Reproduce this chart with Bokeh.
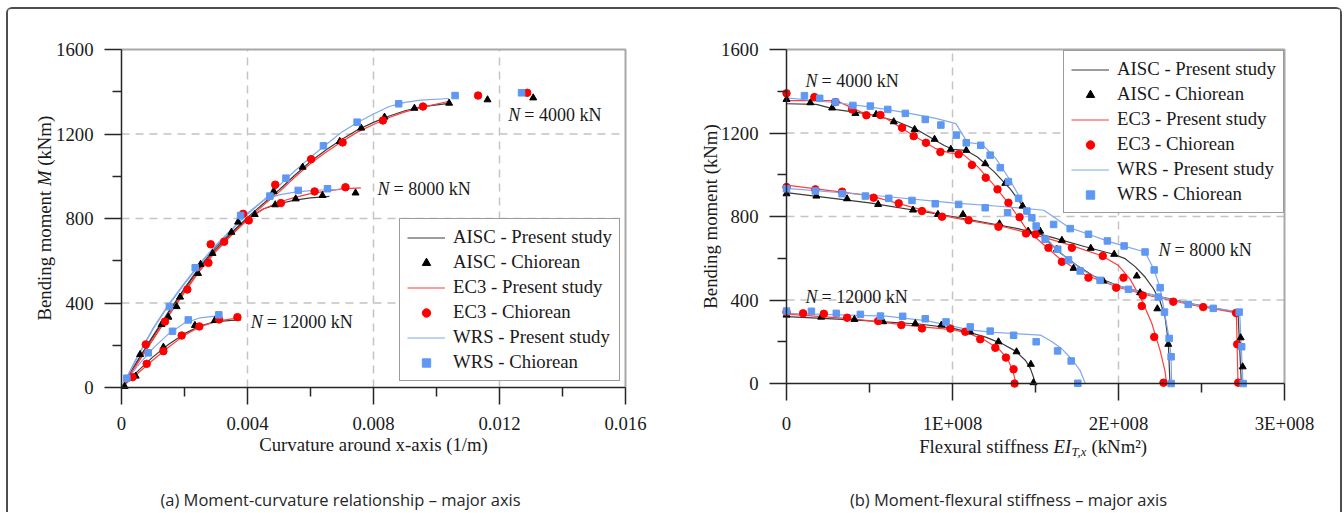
import math
from bokeh.plotting import figure
from bokeh.models import Range1d, FixedTicker, Legend, LegendItem
from bokeh.layouts import row
from bokeh.embed import file_html
from bokeh.resources import INLINE
from bokeh.core.properties import value

SERIF = "Liberation Serif"
SANS = "Open Sans"

# ================= Panel (a): moment - curvature =================
a_x_ticks = [0, 0.004, 0.008, 0.012, 0.016]
a_x_minor = [0.002, 0.006, 0.010, 0.014]
a_y_ticks = [0, 400, 800, 1200, 1600]
a_y_minor = [200, 600, 1000, 1400]

# Present study (lines)
a_k_4000 = [0, 0.0005, 0.001, 0.0015, 0.002, 0.0025, 0.003, 0.0035, 0.004, 0.0045, 0.005,
            0.0055, 0.006, 0.0065, 0.007, 0.0075, 0.008, 0.0085, 0.009, 0.0095, 0.0104]
a_aisc_4000 = [0, 125, 245, 360, 470, 575, 665, 735, 805, 870, 935,
               1005, 1070, 1125, 1175, 1220, 1255, 1285, 1310, 1328, 1345]
a_ec3_4000 = [0, 115, 230, 345, 455, 560, 650, 725, 795, 862, 925,
              995, 1060, 1115, 1165, 1210, 1245, 1278, 1305, 1325, 1355]
a_wrs_4000 = [0, 145, 280, 395, 495, 590, 675, 750, 820, 885, 955,
              1025, 1090, 1150, 1210, 1256, 1295, 1330, 1350, 1360, 1368]

a_k_aisc_8000 = [0, 0.0005, 0.001, 0.0015, 0.002, 0.0025, 0.003, 0.0035, 0.004, 0.0045, 0.005, 0.0055, 0.006, 0.0066]
a_aisc_8000 = [0, 122, 240, 355, 465, 568, 655, 730, 798, 845, 870, 887, 898, 905]
a_k_ec3_8000 = [0, 0.0005, 0.001, 0.0015, 0.002, 0.0025, 0.003, 0.0035, 0.004, 0.0045, 0.005, 0.0055, 0.006, 0.0065, 0.007, 0.0076]
a_ec3_8000 = [0, 112, 226, 340, 450, 555, 645, 722, 795, 845, 877, 900, 918, 930, 940, 945]
a_k_wrs_8000 = [0, 0.0005, 0.001, 0.0015, 0.002, 0.0025, 0.003, 0.0035, 0.004, 0.0045, 0.005, 0.0055, 0.006, 0.0065, 0.0069]
a_wrs_8000 = [0, 142, 276, 390, 490, 585, 670, 748, 825, 885, 912, 925, 932, 936, 937]

a_k_aisc_12000 = [0, 0.0005, 0.001, 0.0015, 0.002, 0.0025, 0.003, 0.0035, 0.0038]
a_aisc_12000 = [0, 75, 145, 205, 255, 292, 312, 318, 320]
a_k_ec3_12000 = [0, 0.0005, 0.001, 0.0015, 0.002, 0.0025, 0.003, 0.0035, 0.0037]
a_ec3_12000 = [0, 65, 130, 192, 248, 288, 313, 325, 328]
a_k_wrs_12000 = [0, 0.0005, 0.001, 0.0015, 0.002, 0.0025, 0.0031]
a_wrs_12000 = [0, 100, 185, 255, 305, 330, 340]

# Chiorean (markers)
a_aisc_pts_k = [0.00059, 0.00127, 0.00186, 0.00251, 0.0037, 0.00483, 0.00575, 0.00693, 0.00761, 0.00835,
                0.0093, 0.0104, 0.01162, 0.01307,
                0.00149, 0.00175, 0.00243, 0.00289, 0.00349, 0.00423, 0.00488, 0.00553, 0.00638, 0.00743,
                0.0001, 0.00045, 0.00133, 0.00233, 0.00296]
a_aisc_pts_m = [156, 298, 428, 583, 783, 929, 1043, 1165, 1228, 1280,
                1322, 1346, 1362, 1371,
                333, 383, 540, 635, 735, 819, 865, 893, 909, 921,
                5, 54, 191, 294, 317]
a_ec3_pts_k = [0.00077, 0.00138, 0.00209, 0.00283, 0.00386, 0.00488, 0.00602, 0.00702, 0.0083, 0.00957,
               0.01132, 0.01288,
               0.00276, 0.00326, 0.00404, 0.00506, 0.00613, 0.00711,
               0.00035, 0.0008, 0.00133, 0.00191, 0.00247, 0.0031, 0.00368]
a_ec3_pts_m = [204, 312, 464, 678, 822, 960, 1081, 1160, 1264, 1330,
               1382, 1395,
               590, 690, 791, 873, 928, 948,
               49, 112, 172, 246, 289, 322, 333]
a_wrs_pts_k = [0.00017, 0.00152, 0.00234, 0.00378, 0.00522, 0.00641, 0.00748, 0.0088, 0.01059, 0.0127,
               0.00471, 0.00561, 0.00654,
               0.00085, 0.00162, 0.00212, 0.00309]
a_wrs_pts_m = [44, 383, 567, 814, 991, 1144, 1256, 1343, 1382, 1395,
               906, 933, 941,
               164, 266, 320, 344]

a_notes_x = [0.01228, 0.00813, 0.0041]
a_notes_y = [1292, 942, 308]
a_notes_txt = ["= 4000 kN", "= 8000 kN", "= 12000 kN"]

# ================= Panel (b): moment - flexural stiffness =================
b_x_ticks = [0, 1e8, 2e8, 3e8]
b_x_minor = [0.5e8, 1.5e8, 2.5e8]
b_x_labels = {0: "0", 1e8: "1E+008", 2e8: "2E+008", 3e8: "3E+008"}
b_y_ticks = [0, 400, 800, 1200, 1600]
b_y_minor = [200, 600, 1000, 1400]

b_ei_aisc_4000 = [0, 0.18e8, 0.3e8, 0.5e8, 0.65e8, 0.8e8, 0.95e8, 1.0e8, 1.08e8, 1.15e8, 1.25e8, 1.35e8,
                  1.45e8, 1.55e8, 1.65e8, 1.75e8, 1.85e8, 2.0e8, 2.2e8, 2.45e8, 2.72e8, 2.74e8]
b_aisc_4000 = [1340, 1337, 1312, 1290, 1260, 1210, 1140, 1122, 1117, 1085, 1015, 930,
               820, 700, 625, 565, 515, 468, 425, 380, 340, 0]
b_ei_ec3_4000 = [0, 0.3e8, 0.45e8, 0.6e8, 0.75e8, 0.9e8, 0.98e8, 1.06e8, 1.15e8, 1.25e8, 1.35e8,
                 1.45e8, 1.55e8, 1.65e8, 1.8e8, 2.0e8, 2.2e8, 2.45e8, 2.71e8, 2.72e8]
b_ec3_4000 = [1355, 1355, 1300, 1270, 1195, 1125, 1105, 1100, 1040, 950, 850,
              735, 665, 595, 520, 460, 418, 375, 338, 0]
b_ei_wrs_4000 = [0, 0.3e8, 0.5e8, 0.7e8, 0.9e8, 1.02e8, 1.09e8, 1.18e8, 1.26e8, 1.35e8, 1.42e8,
                 1.5e8, 1.6e8, 1.7e8, 1.8e8, 1.9e8, 2.1e8, 2.3e8, 2.5e8, 2.73e8, 2.75e8]
b_wrs_4000 = [1368, 1345, 1325, 1300, 1270, 1245, 1155, 1145, 1080, 970, 870,
              760, 665, 592, 535, 492, 445, 405, 372, 342, 0]

b_ei_aisc_8000 = [0, 0.5e8, 1.0e8, 1.4e8, 1.6e8, 1.8e8, 1.97e8, 2.04e8, 2.1e8, 2.16e8, 2.21e8,
                  2.25e8, 2.28e8, 2.3e8, 2.31e8]
b_aisc_8000 = [914, 865, 800, 741, 700, 655, 619, 598, 560, 510, 455, 395, 320, 200, 0]
b_ei_ec3_8000 = [0, 0.5e8, 0.8e8, 1.0e8, 1.3e8, 1.5e8, 1.7e8, 1.9e8, 2.0e8, 2.07e8, 2.14e8,
                 2.2e8, 2.25e8, 2.28e8, 2.29e8]
b_ec3_8000 = [950, 900, 835, 795, 752, 712, 665, 612, 565, 500, 400, 290, 160, 60, 0]
b_ei_wrs_8000 = [0, 0.5e8, 1.0e8, 1.3e8, 1.55e8, 1.7e8, 1.82e8, 1.93e8, 2.03e8, 2.16e8, 2.215e8,
                 2.25e8, 2.277e8, 2.305e8, 2.317e8, 2.32e8]
b_wrs_8000 = [935, 903, 865, 848, 830, 748, 715, 683, 659, 630, 544, 459, 342, 216, 128, 0]

b_ei_aisc_12000 = [0, 0.4e8, 0.8e8, 1.0e8, 1.1e8, 1.2e8, 1.3e8, 1.38e8, 1.44e8, 1.47e8, 1.49e8, 1.495e8]
b_aisc_12000 = [320, 305, 285, 265, 245, 222, 190, 155, 110, 70, 25, 0]
b_ei_ec3_12000 = [0, 0.4e8, 0.8e8, 1.0e8, 1.1e8, 1.2e8, 1.28e8, 1.33e8, 1.36e8, 1.375e8, 1.378e8]
b_ec3_12000 = [332, 310, 272, 258, 240, 205, 165, 120, 70, 25, 0]
b_ei_wrs_12000 = [0, 0.6e8, 0.85e8, 1.0e8, 1.1e8, 1.25e8, 1.4e8, 1.53e8, 1.6e8, 1.66e8, 1.72e8, 1.77e8, 1.8e8]
b_wrs_12000 = [336, 323, 300, 275, 257, 245, 238, 232, 200, 165, 115, 60, 0]

b_aisc_pts_ei = [0, 0.144e8, 0.275e8, 0.415e8, 0.54e8, 0.646e8, 0.772e8, 0.892e8, 0.99e8, 1.083e8, 1.197e8,
                 1.318e8, 1.422e8, 1.528e8, 1.629e8, 1.729e8, 1.909e8, 2.13e8, 2.736e8, 2.748e8,
                 0, 0.18e8, 0.365e8, 0.552e8, 0.762e8, 0.912e8, 1.063e8, 1.283e8, 1.456e8, 1.659e8,
                 1.833e8, 1.974e8, 2.11e8, 2.234e8, 2.3e8,
                 0, 0.209e8, 0.409e8, 0.582e8, 0.776e8, 0.933e8, 1.107e8, 1.277e8, 1.386e8, 1.472e8, 1.488e8]
b_aisc_pts_m = [1361, 1345, 1320, 1294, 1289, 1254, 1217, 1170, 1122, 1117, 1053,
                959, 850, 730, 643, 552, 491, 435, 219, 80,
                909, 898, 885, 858, 831, 810, 810, 765, 730, 686,
                648, 619, 515, 358, 188,
                328, 318, 307, 296, 287, 280, 247, 200, 152, 92, 4]
b_ec3_pts_ei = [0, 0.168e8, 0.295e8, 0.395e8, 0.481e8, 0.566e8, 0.696e8, 0.766e8, 0.84e8, 0.927e8, 1.037e8,
                1.117e8, 1.2e8, 1.271e8, 1.337e8, 1.404e8, 1.443e8, 1.578e8, 1.659e8, 1.819e8, 1.986e8,
                2.146e8, 2.33e8, 2.51e8, 2.708e8, 2.715e8, 2.721e8,
                0, 0.174e8, 0.335e8, 0.525e8, 0.676e8, 0.816e8, 0.937e8, 1.097e8, 1.277e8, 1.5e8,
                1.719e8, 1.905e8, 2.03e8, 2.14e8, 2.215e8, 2.271e8,
                0, 0.1e8, 0.225e8, 0.365e8, 0.552e8, 0.692e8, 0.816e8, 0.987e8, 1.077e8, 1.167e8,
                1.258e8, 1.322e8, 1.368e8, 1.374e8]
b_ec3_pts_m = [1390, 1372, 1348, 1313, 1285, 1286, 1225, 1185, 1153, 1109, 1098,
               1047, 986, 930, 866, 797, 719, 650, 583, 507, 459,
               422, 392, 366, 338, 188, 4,
               941, 930, 919, 890, 863, 826, 799, 782, 751, 715,
               650, 611, 507, 371, 223, 4,
               342, 336, 334, 315, 299, 280, 264, 263, 248, 212,
               171, 124, 68, 0]
b_wrs_pts_ei = [0.108e8, 0.2e8, 0.295e8, 0.4e8, 0.505e8, 0.61e8, 0.716e8, 0.836e8, 0.93e8, 1.023e8,
                1.083e8, 1.17e8, 1.227e8, 1.288e8, 1.337e8, 1.398e8, 1.448e8, 1.478e8, 1.504e8, 1.558e8,
                1.634e8, 1.699e8, 1.769e8, 1.889e8, 2.06e8, 2.24e8, 2.42e8, 2.571e8, 2.727e8, 2.742e8, 2.751e8,
                0, 0.174e8, 0.335e8, 0.475e8, 0.616e8, 0.756e8, 0.896e8, 1.037e8, 1.197e8, 1.332e8,
                1.609e8, 1.709e8, 1.819e8, 1.933e8, 2.034e8, 2.16e8, 2.215e8, 2.251e8, 2.277e8, 2.305e8,
                2.317e8, 2.317e8,
                0, 0.15e8, 0.3e8, 0.445e8, 0.566e8, 0.7e8, 0.836e8, 0.961e8, 1.107e8, 1.227e8,
                1.368e8, 1.504e8, 1.633e8, 1.715e8, 1.755e8]
b_wrs_pts_m = [1379, 1366, 1348, 1332, 1329, 1313, 1294, 1265, 1238, 1190,
               1153, 1141, 1094, 1034, 967, 887, 826, 794, 754, 691,
               643, 592, 539, 494, 451, 414, 379, 360, 342, 176, 0,
               933, 922, 909, 898, 887, 877, 861, 858, 842, 818,
               762, 742, 715, 683, 659, 630, 544, 459, 342, 216,
               128, 0,
               347, 346, 336, 331, 323, 322, 310, 295, 271, 251,
               231, 200, 156, 108, 1]

b_notes_x = [0.1145e8, 2.241e8, 0.1145e8]
b_notes_y = [1451, 640, 412]
b_notes_txt = ["= 4000 kN", "= 8000 kN", "= 12000 kN"]

legend_labels = ["AISC - Present study", "AISC - Chiorean", "EC3 - Present study",
                 "EC3 - Chiorean", "WRS - Present study", "WRS - Chiorean"]

caption_a = "(a) Moment-curvature relationship \u2013 major axis"
caption_b = "(b) Moment-flexural stiffness \u2013 major axis"

# ================= styling =================
C_AISC_L = "#3a3a3a"
C_EC3_L = "#ff3d3d"
C_WRS_L = "#80a8ee"
C_AISC_M = "#000000"
C_EC3_M = "#ff0000"
C_WRS_M = "#5f98f2"
AX = "#262626"
TXT = "#1a1a1a"
FS = "18.75px"
FS_N = "18px"

W, H = 666, 503          # canvas size of each panel
TOP = 9                  # page y of canvas top


def make_fig(page_left, f_left, f_right, f_top, f_bot, xmax, ymax, xt, xm, yt, ym):
    """Frame covers the whole canvas; data box [0,xmax]x[0,ymax] sits at given page pixels."""
    sx = xmax / (f_right - f_left)
    sy = ymax / (f_bot - f_top)
    c_left = f_left - page_left
    c_right = page_left + W - f_right
    c_top = f_top - TOP
    c_bot = TOP + H - f_bot
    p = figure(width=W, height=H, title=None,
               x_range=Range1d(-c_left * sx, xmax + c_right * sx),
               y_range=Range1d(-c_bot * sy, ymax + c_top * sy),
               output_backend="svg", toolbar_location=None, min_border=0)
    p.xaxis.ticker = FixedTicker(ticks=xt, minor_ticks=xm)
    p.yaxis.ticker = FixedTicker(ticks=yt, minor_ticks=ym)
    p.xaxis.fixed_location = 0
    p.yaxis.fixed_location = 0
    p.xaxis.bounds = (0, xmax)
    p.yaxis.bounds = (0, ymax)
    for ax in (p.xaxis[0], p.yaxis[0]):
        ax.axis_line_color = AX
        ax.axis_line_width = 1.5
        ax.major_tick_line_color = AX
        ax.major_tick_line_width = 1.5
        ax.minor_tick_line_color = AX
        ax.minor_tick_line_width = 1.5
        ax.major_tick_in = 0
        ax.major_tick_out = 17
        ax.minor_tick_in = 0
        ax.minor_tick_out = 9
        ax.major_label_text_font = SERIF
        ax.major_label_text_font_size = FS
        ax.major_label_text_color = TXT
        ax.axis_label = None
    p.xaxis.major_label_standoff = 12
    p.yaxis.major_label_standoff = 11
    p.grid.visible = False
    p.outline_line_color = None
    p.background_fill_color = "white"
    p.border_fill_color = "white"
    # dashed grid at inner ticks, bounded to the data box
    gx = xt[1:-1]
    p.segment(x0=gx, y0=[0] * len(gx), x1=gx, y1=[ymax] * len(gx),
              line_color="#c4c4c4", line_dash="8 6", line_width=1.5)
    gy = yt[1:-1]
    p.segment(x0=[0] * len(gy), y0=gy, x1=[xmax] * len(gy), y1=gy,
              line_color="#c4c4c4", line_dash="8 6", line_width=1.5)
    # top / right frame border
    p.line([0, xmax, xmax], [ymax, ymax, 0], line_color="#a8a8a8", line_width=2)

    def px(v):
        return (v - f_left) * sx

    def py(v):
        return (f_bot - v) * sy
    return p, px, py


def add_legend(p, rends, loc):
    items = [LegendItem(label=lab, renderers=[r]) for lab, r in zip(legend_labels, rends)]
    lg = Legend(items=items, location=loc, margin=0, padding=7, spacing=3,
                glyph_width=38, glyph_height=21, label_height=21, label_standoff=8,
                label_text_font=SERIF, label_text_font_size=FS, label_text_color=TXT,
                border_line_color="#3a3a3a", border_line_width=1.5,
                background_fill_color="white", background_fill_alpha=1.0)
    p.add_layout(lg)


def txt(p, x, y, s, size=FS, style="normal", align="left", baseline="middle", angle=0.0,
        font=SERIF, color=TXT, x_offset=0):
    p.text([x], [y], text=[s], text_font=value(font), text_font_size=size, text_font_style=style,
           text_align=align, text_baseline=baseline, angle=angle, text_color=color, x_offset=x_offset)


def notes(p, xs, ys, txts):
    p.text(xs, ys, text=["N"] * len(xs), text_font=value(SERIF), text_font_size=FS_N,
           text_font_style="italic", text_baseline="middle", text_align="left", text_color=TXT)
    p.text(xs, ys, text=txts, text_font=value(SERIF), text_font_size=FS_N, x_offset=16,
           text_baseline="middle", text_align="left", text_color=TXT)


# ---------------- figure (a) ----------------
pa, a_px, a_py = make_fig(8, 121, 625, 49, 387, 0.016, 1600,
                          a_x_ticks, a_x_minor, a_y_ticks, a_y_minor)
pa.xaxis.major_label_overrides = {0: "0"}

la1 = pa.line(a_k_4000, a_aisc_4000, line_color=C_AISC_L, line_width=1.2)
pa.line(a_k_aisc_8000, a_aisc_8000, line_color=C_AISC_L, line_width=1.2)
pa.line(a_k_aisc_12000, a_aisc_12000, line_color=C_AISC_L, line_width=1.2)
la3 = pa.line(a_k_4000, a_ec3_4000, line_color=C_EC3_L, line_width=1.2)
pa.line(a_k_ec3_8000, a_ec3_8000, line_color=C_EC3_L, line_width=1.2)
pa.line(a_k_ec3_12000, a_ec3_12000, line_color=C_EC3_L, line_width=1.2)
la5 = pa.line(a_k_4000, a_wrs_4000, line_color=C_WRS_L, line_width=1.2)
pa.line(a_k_wrs_8000, a_wrs_8000, line_color=C_WRS_L, line_width=1.2)
pa.line(a_k_wrs_12000, a_wrs_12000, line_color=C_WRS_L, line_width=1.2)
la2 = pa.scatter(a_aisc_pts_k, a_aisc_pts_m, marker="triangle", size=7, color=C_AISC_M)
la4 = pa.scatter(a_ec3_pts_k, a_ec3_pts_m, marker="circle", size=7.5, color=C_EC3_M)
la6 = pa.scatter(a_wrs_pts_k, a_wrs_pts_m, marker="square", size=6.5, color=C_WRS_M)
notes(pa, a_notes_x, a_notes_y, a_notes_txt)
# legend: bottom-left corner (px from canvas left, px from canvas bottom)
add_legend(pa, [la1, la2, la3, la4, la5, la6], (399 - 8, TOP + H - 381))

# axis labels and caption
txt(pa, a_px(373), a_py(444), "Curvature around x-axis (1/m)", align="center")
ylab_x = a_px(44)
txt(pa, ylab_x, a_py(320), "Bending moment", angle=math.pi / 2)
txt(pa, ylab_x, a_py(185.6), "M", style="italic", angle=math.pi / 2)
txt(pa, ylab_x, a_py(165.3), "(kNm)", angle=math.pi / 2)
txt(pa, a_px(340), a_py(499), caption_a, size="16.5px", font=SANS, align="center", color="#262626")

# ---------------- figure (b) ----------------
pb, b_px, b_py = make_fig(674, 786, 1284, 49, 383, 3e8, 1600,
                          b_x_ticks, b_x_minor, b_y_ticks, b_y_minor)
pb.xaxis.major_label_overrides = b_x_labels

lb1 = pb.line(b_ei_aisc_4000, b_aisc_4000, line_color=C_AISC_L, line_width=1.2)
pb.line(b_ei_aisc_8000, b_aisc_8000, line_color=C_AISC_L, line_width=1.2)
pb.line(b_ei_aisc_12000, b_aisc_12000, line_color=C_AISC_L, line_width=1.2)
lb3 = pb.line(b_ei_ec3_4000, b_ec3_4000, line_color=C_EC3_L, line_width=1.2)
pb.line(b_ei_ec3_8000, b_ec3_8000, line_color=C_EC3_L, line_width=1.2)
pb.line(b_ei_ec3_12000, b_ec3_12000, line_color=C_EC3_L, line_width=1.2)
lb5 = pb.line(b_ei_wrs_4000, b_wrs_4000, line_color=C_WRS_L, line_width=1.2)
pb.line(b_ei_wrs_8000, b_wrs_8000, line_color=C_WRS_L, line_width=1.2)
pb.line(b_ei_wrs_12000, b_wrs_12000, line_color=C_WRS_L, line_width=1.2)
lb2 = pb.scatter(b_aisc_pts_ei, b_aisc_pts_m, marker="triangle", size=7, color=C_AISC_M)
lb4 = pb.scatter(b_ec3_pts_ei, b_ec3_pts_m, marker="circle", size=7.5, color=C_EC3_M)
lb6 = pb.scatter(b_wrs_pts_ei, b_wrs_pts_m, marker="square", size=6.5, color=C_WRS_M)
notes(pb, b_notes_x, b_notes_y, b_notes_txt)
add_legend(pb, [lb1, lb2, lb3, lb4, lb5, lb6], (1063 - 674, TOP + H - 213))

txt(pb, b_px(710), b_py(216), "Bending moment (kNm)", align="center", angle=math.pi / 2)
txt(pb, b_px(1048), b_py(446), "Flexural stiffness", align="right", baseline="alphabetic")
txt(pb, b_px(1053), b_py(446), "EI", style="italic", baseline="alphabetic")
txt(pb, b_px(1071), b_py(451), "T,x", size="12.5px", style="italic", baseline="alphabetic")
txt(pb, b_px(1091), b_py(446), "(kNm\u00b2)", baseline="alphabetic")
txt(pb, b_px(1008), b_py(499), caption_b, size="16.5px", font=SANS, align="center", color="#262626")

layout = row(pa, pb, styles={"margin-left": "6px", "margin-top": "7px",
                             "border-top": "2px solid #4d4d4d", "border-left": "2px solid #4d4d4d",
                             "border-right": "2px solid #4d4d4d", "border-radius": "6px 6px 0 0"})

open("out.html", "w").write(file_html(layout, INLINE))
